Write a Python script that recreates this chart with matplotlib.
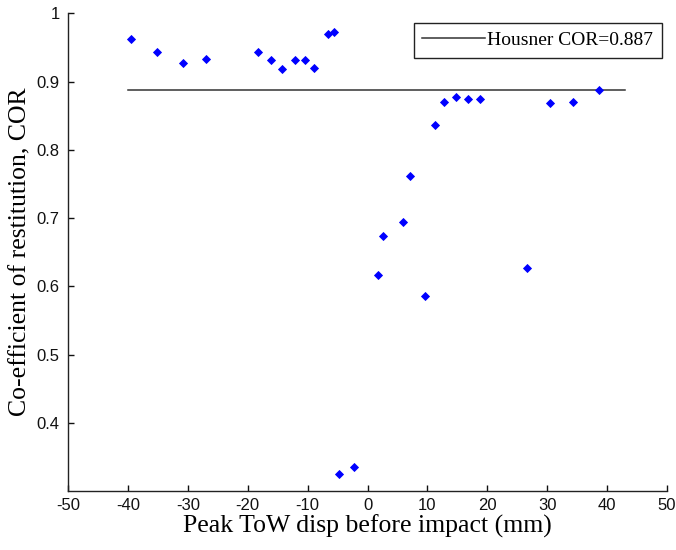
import matplotlib
matplotlib.use("Agg")
import matplotlib.pyplot as plt

# Data
disp_mm = [-39.4, -35.2, -30.8, -26.9, -18.3, -16.1, -14.2, -12.1, -10.5, -8.9,
           -6.6, -5.6, -4.7, -2.2, 1.8, 2.6, 5.9, 7.05, 9.6, 11.2,
           12.8, 14.7, 16.7, 18.8, 26.7, 30.4, 34.3, 38.7]
cor = [0.963, 0.943, 0.927, 0.933, 0.943, 0.931, 0.918, 0.931, 0.931, 0.920,
       0.969, 0.972, 0.325, 0.335, 0.617, 0.674, 0.694, 0.761, 0.586, 0.837,
       0.870, 0.878, 0.874, 0.874, 0.627, 0.868, 0.870, 0.888]
housner_cor = 0.887
housner_x = [-40, 43]
xticks = [-50, -40, -30, -20, -10, 0, 10, 20, 30, 40, 50]
yticks = [0.4, 0.5, 0.6, 0.7, 0.8, 0.9, 1.0]
ytick_labels = ["0.4", "0.5", "0.6", "0.7", "0.8", "0.9", "1"]

plt.rcParams['font.family'] = ['Liberation Serif', 'DejaVu Serif']

fig = plt.figure(figsize=(6.76, 5.5), dpi=100)
ax = fig.add_axes([68/676, 1 - 491/550, (667-68)/676, (491-13.3)/550])

ax.plot(housner_x, [housner_cor, housner_cor], color='#333333', lw=1.1,
        label='Housner COR=0.887')
ax.plot(disp_mm, cor, linestyle='none', marker='D', markersize=4.2,
        color='blue', markeredgewidth=0.6)

ax.set_xlim(-50, 50)
ax.set_ylim(0.3, 1.0)
ax.set_xticks(xticks)
ax.set_xticklabels([str(t) for t in xticks])
ax.set_yticks(yticks)
ax.set_yticklabels(ytick_labels)
ax.tick_params(direction='in', labelsize=12, length=4, width=1, colors='#111111')
ax.tick_params(axis='x', pad=5)
ax.tick_params(axis='y', pad=6)
for lbl in ax.get_xticklabels() + ax.get_yticklabels():
    lbl.set_family(['Liberation Sans', 'DejaVu Sans'])
ax.spines['top'].set_visible(False)
ax.spines['right'].set_visible(False)
for s in ['left', 'bottom']:
    ax.spines[s].set_linewidth(1.0)
    ax.spines[s].set_color('#222222')

ax.set_xlabel('Peak ToW disp before impact (mm)', fontsize=18.5, labelpad=1.5)
ax.set_ylabel('Co-efficient of restitution, COR', fontsize=18.5, labelpad=4)

leg = ax.legend(loc='upper right', bbox_to_anchor=(0.992, 0.98), fontsize=14,
                fancybox=False, edgecolor='#222222', framealpha=1,
                handlelength=3.2, handletextpad=0.15, borderpad=0.45,
                borderaxespad=0.0)
leg.get_frame().set_linewidth(1.0)

fig.savefig('out.png', dpi=100)
